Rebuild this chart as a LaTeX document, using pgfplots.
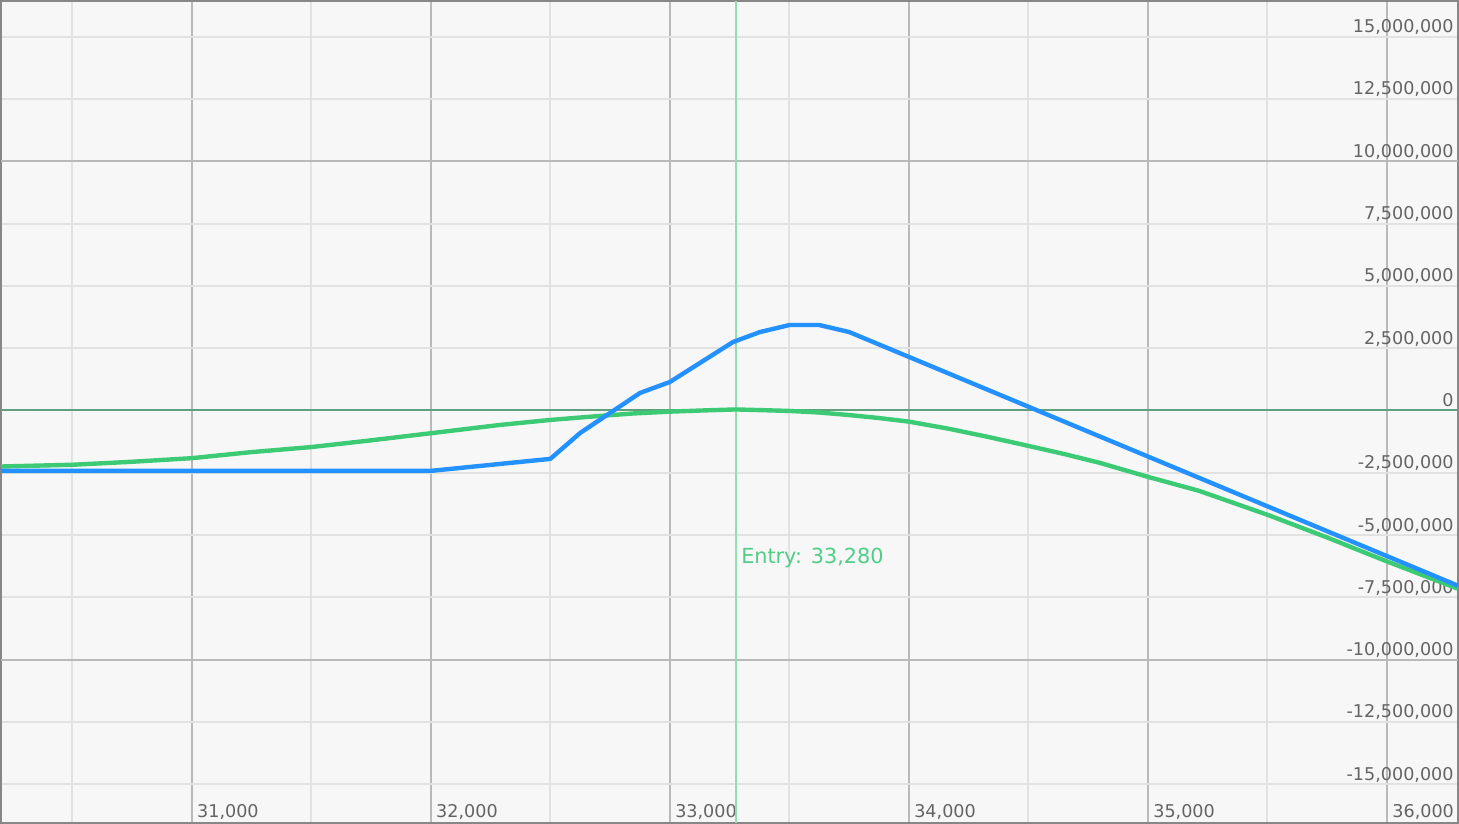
\documentclass[border=0pt]{standalone}
\usepackage{fontspec}
\setmainfont{DejaVu Sans}
\usepackage{pgfplots}
\pgfplotsset{compat=1.18}

\definecolor{bg}{RGB}{247,247,247}
\definecolor{bordercol}{RGB}{135,135,135}
\definecolor{majorcol}{RGB}{185,185,185}
\definecolor{minorcol}{RGB}{226,226,226}
\definecolor{zerocol}{RGB}{95,160,125}
\definecolor{entrycol}{RGB}{142,224,176}
\definecolor{entrytxt}{RGB}{80,205,135}
\definecolor{bluecol}{RGB}{35,145,255}
\definecolor{greencol}{RGB}{60,203,116}
\definecolor{labcol}{RGB}{100,100,100}

\begin{document}
\begin{tikzpicture}
\begin{axis}[
  scale only axis,
  width=729.5pt, height=411.5pt,
  xmin=30202, xmax=36297,
  ymin=-16550000, ymax=16430000,
  scaled ticks=false,
  axis background/.style={fill=bg},
  axis line style={draw=bordercol, line width=1pt},
  xtick={31000,32000,33000,34000,35000,36000},
  xticklabels={{31,000},{32,000},{33,000},{34,000},{35,000},{36,000}},
  minor xtick={30500,31500,32500,33500,34500,35500},
  ytick={-15000000,-12500000,-10000000,-7500000,-5000000,-2500000,0,2500000,5000000,7500000,10000000,12500000,15000000},
  yticklabels={{-15,000,000},{-12,500,000},{-10,000,000},{-7,500,000},{-5,000,000},{-2,500,000},{0},{2,500,000},{5,000,000},{7,500,000},{10,000,000},{12,500,000},{15,000,000}},
  xmajorgrids, xminorgrids, ymajorgrids,
  major x grid style={draw=majorcol, line width=1pt},
  minor x grid style={draw=minorcol, line width=1pt},
  major y grid style={draw=minorcol, line width=1pt},
  major tick length=0pt, minor tick length=0pt,
  tick style={draw=none},
  yticklabel pos=right,
  xticklabel pos=left,
  yticklabel style={anchor=base east, inner sep=0pt, xshift=-2pt, yshift=2pt,
    text=labcol, font=\fontsize{8.8}{10}\selectfont},
  xticklabel style={anchor=base west, inner sep=0pt, xshift=2.5pt, yshift=2.5pt,
    text=labcol, font=\fontsize{8.8}{10}\selectfont},
  clip=true,
]
% darker horizontal grid lines at +-10M
\addplot[forget plot, majorcol, line width=1pt] coordinates {(30202,10000000) (36297,10000000)};
\addplot[forget plot, majorcol, line width=1pt] coordinates {(30202,-10000000) (36297,-10000000)};
% zero line
\addplot[forget plot, zerocol, line width=1pt] coordinates {(30202,0) (36297,0)};
% entry line
\addplot[forget plot, entrycol, line width=1pt] coordinates {(33277,-16550000) (33277,16430000)};

% green curve
\addplot[greencol, line width=2.2pt, line join=round] coordinates {
(30202,-2250000) (30500,-2180000) (30750,-2060000) (31000,-1916000) (31246,-1675000) (31500,-1470000)
(31750,-1200000) (32000,-914000) (32290,-581000) (32500,-381000) (32708,-220000)
(32850,-120000) (33000,-48000) (33140,0) (33276,40000) (33390,10000) (33500,-20000) (33620,-80000) (33744,-180000)
(33870,-300000) (34000,-449000) (34170,-741000) (34330,-1060000) (34500,-1423000) (34650,-1750000) (34797,-2100000) (35000,-2666000)
(35214,-3227000) (35500,-4188000) (35750,-5100000) (36000,-6060000) (36297,-7154000)
};
% blue line
\addplot[bluecol, line width=2.2pt, line join=round] coordinates {
(30202,-2425000) (32000,-2425000) (32500,-1944000) (32625,-902000)
(32875,701000) (33000,1142000) (33264,2745000) (33377,3146000)
(33500,3427000) (33625,3427000) (33750,3146000) (36297,-7034000)
};

\node[anchor=base west, inner sep=0pt, text=entrytxt, font=\fontsize{10.4}{12}\selectfont]
  at (axis cs:33297,-6152000) {Entry: 33,280};
\end{axis}
\end{tikzpicture}
\end{document}
